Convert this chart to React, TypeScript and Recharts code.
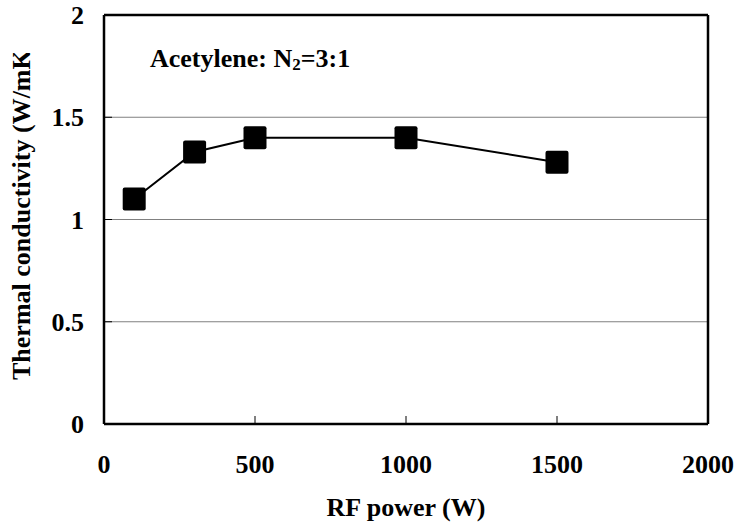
import { CartesianGrid, Line, LineChart, ReferenceLine, XAxis, YAxis } from "recharts";

const powerW = [100, 300, 500, 1000, 1500];
const conductivity = [1.1, 1.33, 1.4, 1.4, 1.28];
const xTicks = [0, 500, 1000, 1500, 2000];
const yTicks = [0, 0.5, 1, 1.5, 2];

const data = powerW.map((p, i) => ({ power: p, k: conductivity[i] }));

const font = "Liberation Serif, Times New Roman, Times, serif";

function SquareDot(props: any) {
  const { cx, cy } = props;
  if (cx == null || cy == null) return null;
  return <rect x={cx - 11.5} y={cy - 11.5} width={23} height={23} rx={2} fill="#000" />;
}

function YTitle() {
  return (
    <g>
      <defs>
        <clipPath id="ytitle-clip">
          <rect x={0} y={53} width={60} height={400} />
        </clipPath>
      </defs>
      <g clipPath="url(#ytitle-clip)">
        <text
          x={30}
          y={380}
          transform="rotate(-90 30 380)"
          textAnchor="start"
          style={{ fontFamily: font, fontWeight: "bold", fontSize: 26 }}
          fill="#000"
        >
          Thermal conductivity (W/mK)
        </text>
      </g>
    </g>
  );
}

function XTitle(props: any) {
  const vb = props.viewBox || {};
  return (
    <text
      x={vb.x + vb.width / 2}
      y={vb.y + 92}
      textAnchor="middle"
      style={{ fontFamily: font, fontWeight: "bold", fontSize: 26 }}
      fill="#000"
    >
      RF power (W)
    </text>
  );
}

const tickStyle = { fill: "#000", style: { fontFamily: font, fontWeight: "bold", fontSize: 26 } };

export default function App() {
  return (
    <div style={{ position: "absolute", left: 0, top: 0, background: "#fff", fontFamily: font }}>
      <LineChart width={736} height={529} data={data} margin={{ top: 15, right: 28, left: 0, bottom: 0 }}>
        <CartesianGrid vertical={false} stroke="#808080" strokeWidth={1.2} />
        <XAxis
          type="number"
          dataKey="power"
          domain={[0, 2000]}
          ticks={xTicks}
          height={105}
          tickSize={-8}
          tickMargin={39}
          axisLine={{ stroke: "#000", strokeWidth: 2.5 }}
          tickLine={{ stroke: "#000", strokeWidth: 1 }}
          tick={tickStyle}
          label={<XTitle />}
        />
        <YAxis
          type="number"
          domain={[0, 2]}
          ticks={yTicks}
          width={104}
          tickSize={-8}
          tickMargin={28}
          axisLine={{ stroke: "#000", strokeWidth: 2.5 }}
          tickLine={{ stroke: "#000", strokeWidth: 1 }}
          tick={tickStyle}
          label={<YTitle />}
        />
        <ReferenceLine y={2} stroke="#000" strokeWidth={2.5} />
        <ReferenceLine x={2000} stroke="#000" strokeWidth={2.5} />
        <Line
          type="linear"
          dataKey="k"
          stroke="#000"
          strokeWidth={2}
          dot={<SquareDot />}
          activeDot={false}
          isAnimationActive={false}
        />
        <text x={150} y={67} style={{ fontFamily: font, fontWeight: "bold", fontSize: 26 }} fill="#000">
          Acetylene: N
          <tspan style={{ fontSize: 17 }} dy={3}>2</tspan>
          <tspan style={{ fontSize: 26 }} dy={-3}>=3:1</tspan>
        </text>
      </LineChart>
    </div>
  );
}
